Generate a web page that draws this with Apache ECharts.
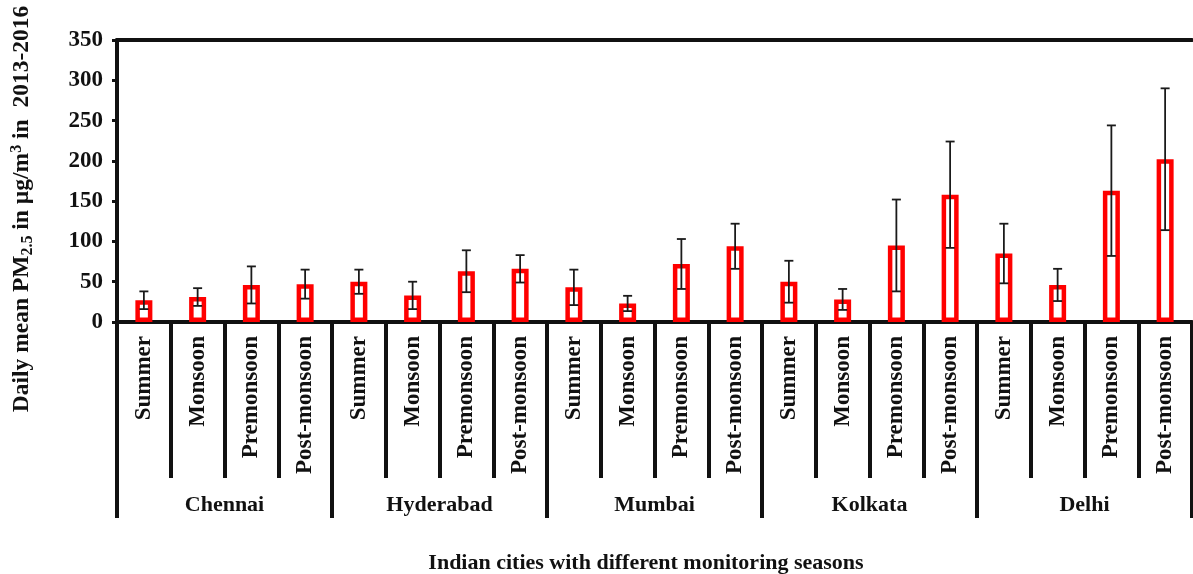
<!DOCTYPE html>
<html>
<head>
<meta charset="utf-8">
<script src="https://cdn.jsdelivr.net/npm/echarts@6/dist/echarts.min.js"></script>
<style>
  html, body { margin: 0; padding: 0; background: #fff; }
  #chart { width: 1193px; height: 574px; }
</style>
</head>
<body>
<div id="chart"></div>
<script>
const seasons = ["Summer", "Monsoon", "Premonsoon", "Post-monsoon"];
const cities = ["Chennai", "Hyderabad", "Mumbai", "Kolkata", "Delhi"];
// mean PM2.5 per city, in season order
const pm25Mean = [
  27, 31, 46, 47,
  50, 33, 63, 66,
  43, 23, 72, 94,
  50, 28, 95, 158,
  85, 46, 163, 202
];
// error bar half lengths
const pm25Err = [
  11, 11, 23, 18,
  15, 17, 26, 17,
  22, 9.5, 31, 28,
  26, 13, 57, 66,
  37, 20, 81, 88
];
const yTicks = [0, 50, 100, 150, 200, 250, 300, 350];

const categories = [];
cities.forEach((c) => seasons.forEach((s) => categories.push(c + "|" + s)));

const errData = pm25Mean.map((m, i) => [i, m - pm25Err[i], m + pm25Err[i]]);

const font = "'Liberation Serif', 'Times New Roman', serif";
const ink = "#111";

const myChart = echarts.init(document.getElementById("chart"));
myChart.setOption({
  animation: false,
  grid: { left: 117, right: 1, top: 40, bottom: 252 },
  xAxis: [
    {
      type: "category",
      data: categories,
      position: "bottom",
      axisLine: { show: true, lineStyle: { color: ink, width: 4 } },
      axisTick: { show: true, interval: 0, length: 156, lineStyle: { color: ink, width: 4 } },
      axisLabel: {
        interval: 0,
        rotate: 90,
        margin: 14,
        color: ink,
        fontFamily: font,
        fontWeight: "bold",
        fontSize: 23,
        formatter: (v) => v.split("|")[1],
      },
    },
    {
      type: "category",
      data: cities,
      position: "bottom",
      offset: 0,
      axisLine: { show: false },
      axisTick: { show: true, interval: 0, length: 196, lineStyle: { color: ink, width: 4 } },
      axisLabel: {
        interval: 0,
        margin: 172,
        color: ink,
        fontFamily: font,
        fontWeight: "bold",
        fontSize: 22,
      },
    },
    {
      type: "category",
      data: categories,
      position: "top",
      axisLine: { show: true, lineStyle: { color: ink, width: 4 } },
      axisTick: { show: false },
      axisLabel: { show: false },
    },
  ],
  yAxis: {
    type: "value",
    min: yTicks[0],
    max: yTicks[yTicks.length - 1],
    interval: 50,
    splitLine: { show: false },
    axisLine: { show: true, lineStyle: { color: ink, width: 4 } },
    axisTick: { show: true, length: 5, lineStyle: { color: ink, width: 3 } },
    axisLabel: {
      margin: 14,
      color: ink,
      fontFamily: font,
      fontWeight: "bold",
      fontSize: 23,
    },
  },
  graphic: [
    {
      type: "text",
      x: 22,
      y: 209,
      rotation: Math.PI / 2,
      style: {
        text: "{b|Daily mean PM}{sub|2.5}{b| in µg/m}{sup|3}{b| in  2013-2016}",
        align: "center",
        verticalAlign: "middle",
        fill: ink,
        rich: {
          b: { fontFamily: font, fontWeight: "bold", fontSize: 23.5, lineHeight: 27, fill: ink },
          sub: { fontFamily: font, fontWeight: "bold", fontSize: 16, lineHeight: 12, verticalAlign: "bottom", fill: ink },
          sup: { fontFamily: font, fontWeight: "bold", fontSize: 16, lineHeight: 12, verticalAlign: "top", fill: ink },
        },
      },
    },
    {
      type: "text",
      x: 646,
      y: 563,
      style: {
        text: "Indian cities with different monitoring seasons",
        align: "center",
        verticalAlign: "middle",
        fill: ink,
        font: "bold 22px " + font,
      },
    },
  ],
  series: [
    {
      name: "PM2.5",
      type: "bar",
      xAxisIndex: 0,
      barWidth: 17,
      data: pm25Mean,
      itemStyle: { color: "#fff", borderColor: "#ff0000", borderWidth: 4.5 },
      z: 2,
    },
    {
      name: "error",
      type: "custom",
      xAxisIndex: 0,
      data: errData,
      encode: { x: 0, y: [1, 2] },
      z: 3,
      renderItem: (params, api) => {
        const idx = api.value(0);
        const top = api.coord([idx, api.value(2)]);
        const bot = api.coord([idx, api.value(1)]);
        const half = 4.5;
        const style = { stroke: "#1a1a1a", lineWidth: 1.8 };
        return {
          type: "group",
          children: [
            { type: "line", shape: { x1: top[0], y1: top[1], x2: bot[0], y2: bot[1] }, style },
            { type: "line", shape: { x1: top[0] - half, y1: top[1], x2: top[0] + half, y2: top[1] }, style },
            { type: "line", shape: { x1: bot[0] - half, y1: bot[1], x2: bot[0] + half, y2: bot[1] }, style },
          ],
        };
      },
    },
  ],
});

window.addEventListener("resize", () => myChart.resize());
</script>
</body>
</html>
